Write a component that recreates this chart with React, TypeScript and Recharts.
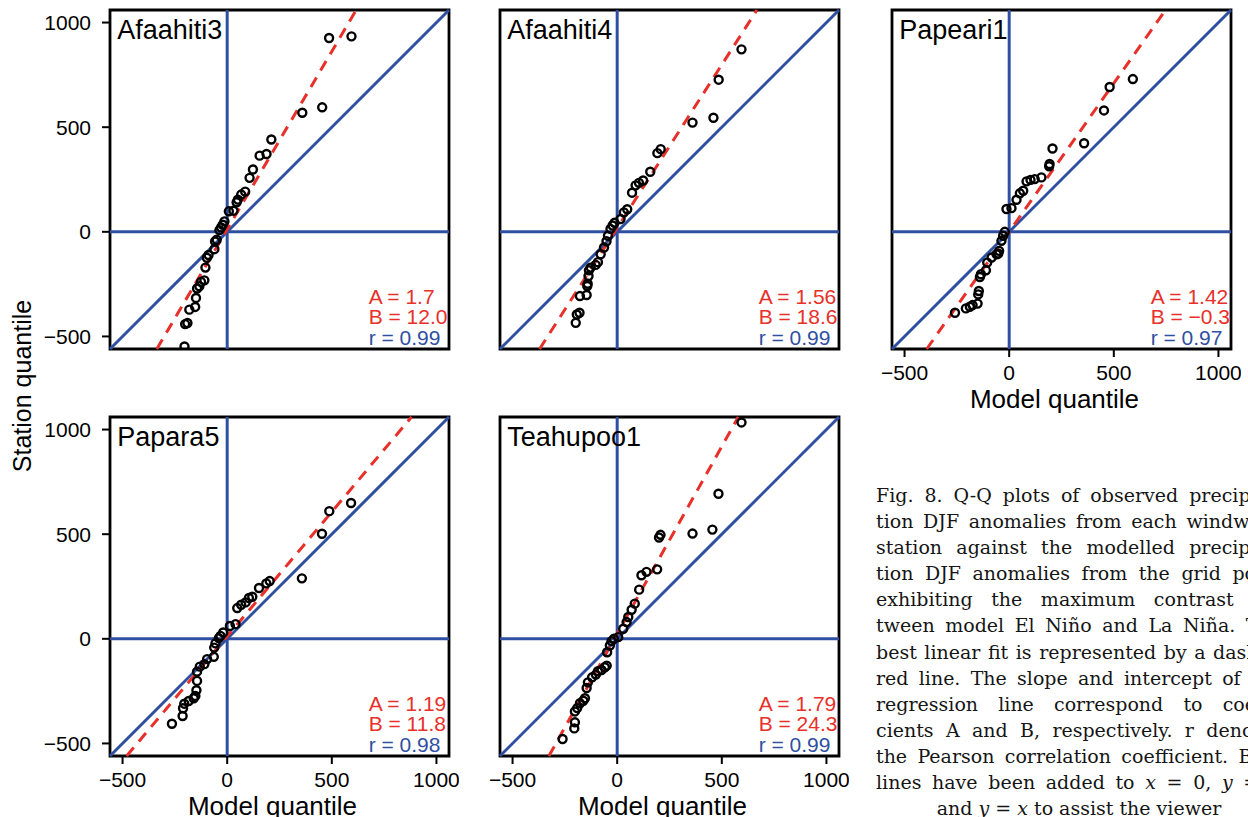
import React from 'react';
import { ScatterChart, Scatter, XAxis, YAxis, ReferenceLine, ReferenceArea } from 'recharts';

// ---------- data ----------
const axisDomain: [number, number] = [-560, 1060];
const axisTicks = [-500, 0, 500, 1000];

const stationNames = ['Afaahiti3', 'Afaahiti4', 'Papeari1', 'Papara5', 'Teahupoo1'];
const slopeA = [1.7, 1.56, 1.42, 1.19, 1.79];
const interceptB = [12.0, 18.6, -0.3, 11.8, 24.3];
const slopeLabels = ['1.7', '1.56', '1.42', '1.19', '1.79'];
const interceptLabels = ['12.0', '18.6', '\u22120.3', '11.8', '24.3'];
const rLabels = ['0.99', '0.99', '0.97', '0.98', '0.99'];

const afaahiti3Model = [-204, -201, -190, -181, -153, -149, -144, -133, -125, -109, -104, -97, -89, -61, -58, -50, -37, -29, -21, -13, 8, 30, 45, 51, 67, 86, 107, 123, 155, 188, 211, 359, 454, 487, 594];
const afaahiti3Station = [-548, -441, -436, -372, -359, -316, -271, -260, -239, -232, -171, -124, -111, -83, -46, -38, 8, 21, 34, 50, 98, 101, 141, 154, 178, 192, 258, 298, 364, 372, 441, 569, 595, 926, 934];

const afaahiti4Model = [-198, -193, -180, -178, -146, -143, -141, -137, -135, -127, -103, -92, -79, -63, -51, -44, -32, -22, -13, 16, 32, 48, 71, 88, 104, 124, 158, 192, 208, 360, 460, 485, 594];
const afaahiti4Station = [-435, -395, -387, -307, -302, -259, -248, -211, -184, -171, -158, -145, -107, -75, -45, -19, 14, 30, 43, 61, 93, 108, 187, 222, 234, 245, 287, 376, 395, 522, 545, 727, 872];

const papeari1Model = [-259, -207, -188, -175, -151, -148, -145, -140, -135, -111, -105, -84, -60, -52, -48, -37, -29, -21, -13, 11, 35, 51, 67, 83, 102, 122, 154, 191, 193, 207, 358, 453, 480, 591];
const papeari1Station = [-387, -366, -358, -350, -343, -299, -283, -216, -203, -184, -147, -123, -107, -104, -91, -43, -19, 0, 109, 113, 153, 184, 196, 241, 248, 252, 260, 313, 324, 398, 423, 580, 692, 730];

const papara5Model = [-264, -213, -211, -205, -184, -160, -152, -147, -144, -144, -131, -109, -96, -64, -62, -56, -40, -32, -19, 13, 40, 48, 67, 88, 104, 120, 152, 187, 203, 357, 453, 488, 592];
const papara5Station = [-406, -369, -332, -310, -297, -284, -273, -246, -201, -157, -133, -121, -97, -86, -42, -22, 3, 14, 30, 61, 70, 147, 163, 174, 195, 201, 243, 265, 276, 289, 502, 610, 649];

const teahupoo1Model = [-261, -205, -202, -202, -191, -178, -162, -154, -146, -140, -120, -102, -92, -75, -59, -50, -48, -35, -27, -16, 5, 29, 45, 53, 69, 84, 105, 116, 140, 191, 200, 207, 360, 455, 484, 594];
const teahupoo1Station = [-479, -428, -399, -347, -331, -308, -296, -284, -235, -208, -184, -171, -155, -149, -136, -128, -64, -32, -11, 0, 8, 48, 80, 104, 139, 168, 235, 304, 320, 332, 484, 497, 503, 522, 693, 1034];

const modelSeries = [afaahiti3Model, afaahiti4Model, papeari1Model, papara5Model, teahupoo1Model];
const stationSeries = [afaahiti3Station, afaahiti4Station, papeari1Station, papara5Station, teahupoo1Station];

// ---------- style / layout ----------
const BLUE = '#2f4fa2';
const RED = '#e8302a';
const SANS = '"Liberation Sans", Arial, Helvetica, sans-serif';

const PLOT = 339;
const ML = 100; // y-axis width
const MT = 10;
const MR = 10;
const XH = 70; // x-axis height
const CW = ML + PLOT + MR;
const CH = MT + PLOT + XH;

const panels = [
  { left: 10, top: 0, xLabels: false, yLabels: true, xTitle: false },
  { left: 400, top: 0, xLabels: false, yLabels: false, xTitle: false },
  { left: 792, top: 0, xLabels: true, yLabels: false, xTitle: true },
  { left: 10, top: 407, xLabels: true, yLabels: true, xTitle: true },
  { left: 400, top: 407, xLabels: true, yLabels: false, xTitle: true },
];

const fmt = (v: number) => String(v).replace('-', '\u2212');

const renderCircle = (p: any) => (
  <circle cx={p.cx} cy={p.cy} r={4} fill="none" stroke="#000" strokeWidth={2.4} />
);

const renderNote = (p: any) => (
  <text
    x={p.cx}
    y={p.cy}
    fill={p.payload.color}
    fontSize={p.payload.size}
    fontFamily={SANS}
    textAnchor="start"
    dominantBaseline="central"
  >
    {p.payload.text}
  </text>
);

function Panel({ i }: { i: number }) {
  const cfg = panels[i];
  const pts = modelSeries[i].map((x, k) => ({ x, y: stationSeries[i][k] }));
  const A = slopeA[i];
  const B = interceptB[i];
  const [lo, hi] = axisDomain;
  const fitSeg = [
    { x: (lo - B) / A, y: lo },
    { x: (hi - B) / A, y: hi },
  ];
  const notes = [
    { x: -525, y: 965, text: stationNames[i], color: '#000', size: 27 },
    { x: 676, y: -308, text: `A = ${slopeLabels[i]}`, color: RED, size: 21 },
    { x: 676, y: -407, text: `B = ${interceptLabels[i]}`, color: RED, size: 21 },
    { x: 676, y: -505, text: `r = ${rLabels[i]}`, color: BLUE, size: 21 },
  ];
  const tickStyle = { fill: '#000', fontSize: 21, fontFamily: SANS };
  return (
    <div style={{ position: 'absolute', left: cfg.left, top: cfg.top, fontFamily: SANS }}>
      <ScatterChart width={CW} height={CH} margin={{ top: MT, right: MR, bottom: 0, left: 0 }}>
        <XAxis
          type="number"
          dataKey="x"
          domain={axisDomain}
          ticks={axisTicks}
          interval={0}
          allowDataOverflow
          axisLine={false}
          tickLine={{ stroke: '#000', strokeWidth: 2 }}
          tickSize={8}
          tickMargin={8}
          tick={cfg.xLabels ? tickStyle : false}
          tickFormatter={fmt}
          height={XH}
          label={
            cfg.xTitle
              ? { value: 'Model quantile', position: 'insideBottom', offset: 11, dx: -7, fill: '#000', fontSize: 26, fontFamily: SANS }
              : undefined
          }
        />
        <YAxis
          type="number"
          dataKey="y"
          domain={axisDomain}
          ticks={axisTicks}
          interval={0}
          allowDataOverflow
          axisLine={false}
          tickLine={{ stroke: '#000', strokeWidth: 2 }}
          tickSize={8}
          tickMargin={11}
          tick={cfg.yLabels ? tickStyle : false}
          tickFormatter={fmt}
          width={ML}
        />
        <ReferenceLine x={0} stroke={BLUE} strokeWidth={3} ifOverflow="visible" />
        <ReferenceLine y={0} stroke={BLUE} strokeWidth={3} ifOverflow="visible" />
        <ReferenceLine
          segment={[{ x: lo, y: lo }, { x: hi, y: hi }]}
          stroke={BLUE}
          strokeWidth={3}
          ifOverflow="visible"
        />
        <ReferenceLine segment={fitSeg} stroke={RED} strokeWidth={3} strokeDasharray="11 8" ifOverflow="visible" />
        <ReferenceArea
          x1={lo}
          x2={hi}
          y1={lo}
          y2={hi}
          fill="none"
          fillOpacity={0}
          stroke="#000"
          strokeWidth={2.8}
          strokeOpacity={1}
          ifOverflow="visible"
        />
        <Scatter data={pts} shape={renderCircle} isAnimationActive={false} />
        <Scatter data={notes} shape={renderNote} isAnimationActive={false} />
      </ScatterChart>
    </div>
  );
}

const captionLines = [
  'Fig. 8. Q-Q plots of observed precipita-',
  'tion DJF anomalies from each windward',
  'station against the modelled precipita-',
  'tion DJF anomalies from the grid point',
  'exhibiting the maximum contrast be-',
  'tween model El Ni\u00f1o and La Ni\u00f1a. The',
  'best linear fit is represented by a dashed',
  'red line. The slope and intercept of the',
  'regression line correspond to coeffi-',
  'cients A and B, respectively. r denotes',
  'the Pearson correlation coefficient. Blue',
];

export default function App() {
  const capStyle: React.CSSProperties = {
    position: 'absolute',
    left: 876,
    width: 406,
    fontFamily: '"DejaVu Serif", serif',
    fontSize: 19,
    lineHeight: '26.1px',
    color: '#151515',
  };
  return (
    <div
      style={{
        position: 'absolute',
        left: 0,
        top: 0,
        width: 1248,
        height: 817,
        overflow: 'hidden',
        background: '#fff',
      }}
    >
      {[0, 1, 2, 3, 4].map((i) => (
        <Panel key={i} i={i} />
      ))}
      <svg width={60} height={817} style={{ position: 'absolute', left: 0, top: 0 }}>
        <text
          transform="translate(31,386) rotate(-90)"
          textAnchor="middle"
          fontSize={25}
          fontFamily={SANS}
          fill="#000"
        >
          Station quantile
        </text>
      </svg>
      <div style={{ ...capStyle, top: 482, textAlign: 'justify', textAlignLast: 'justify' }}>
        {captionLines.map((l, k) => (
          <React.Fragment key={k}>
            {l}
            <br />
          </React.Fragment>
        ))}
        <span>
          lines have been added to <i>x</i> = 0, <i>y</i> = 0
        </span>
      </div>
      <div style={{ ...capStyle, top: 482 + 12 * 26.1, textAlign: 'center' }}>
        and <i>y</i> = <i>x</i> to assist the viewer
      </div>
    </div>
  );
}
